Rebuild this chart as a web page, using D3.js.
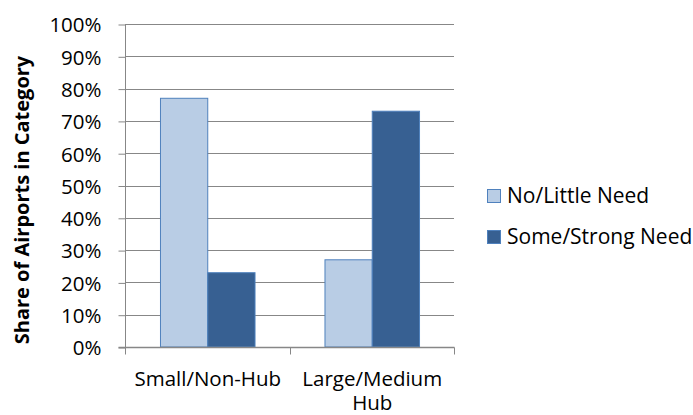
<!DOCTYPE html>
<html>
<head>
<meta charset="utf-8">
<script src="https://cdn.jsdelivr.net/npm/d3@7"></script>
<style>
  html, body { margin: 0; padding: 0; background: #fff; }
  svg { display: block; font-family: "Open Sans", sans-serif; }
</style>
</head>
<body>
<svg id="chart" width="693" height="415"></svg>
<script>
// Share of airports by hub size and stated need
const categories = ["Small/Non-Hub", "Large/Medium Hub"];
const categoryLines = [["Small/Non-Hub"], ["Large/Medium", "Hub"]];
const seriesNames = ["No/Little Need", "Some/Strong Need"];
const noLittleNeed = [0.77, 0.27];
const someStrongNeed = [0.23, 0.73];
const yTicks = [0, 0.1, 0.2, 0.3, 0.4, 0.5, 0.6, 0.7, 0.8, 0.9, 1.0];

const fills = ["#B9CDE5", "#376092"];
const strokes = ["#4F81BD", "#4F81BD"];
const font = "'Open Sans', sans-serif";

const svg = d3.select("#chart");
const plot = { left: 125, right: 454, top: 24, bottom: 347 };

const x = d3.scaleBand().domain(categories).range([plot.left, plot.right]).paddingInner(0).paddingOuter(0);
const sub = d3.scaleBand().domain(seriesNames).range([0, x.bandwidth()]).paddingInner(0).paddingOuter(0.74);
const y = d3.scaleLinear().domain([0, 1]).range([plot.bottom, plot.top]);

// horizontal gridlines
svg.append("g").selectAll("line").data(yTicks.filter(d => d > 0)).join("line")
  .attr("x1", plot.left).attr("x2", plot.right)
  .attr("y1", d => Math.round(y(d)) + 0.5).attr("y2", d => Math.round(y(d)) + 0.5)
  .attr("stroke", "#878787").attr("stroke-width", 1);

// y axis
const yAxis = d3.axisLeft(y).tickValues(yTicks).tickFormat(d3.format(".0%")).tickSize(7).tickPadding(17);
const gy = svg.append("g").attr("transform", `translate(${plot.left + 0.5},0.5)`).call(yAxis);
gy.attr("font-family", null).attr("font-size", null);
gy.select(".domain").attr("stroke", "#878787").attr("d", `M0,${plot.top}V${plot.bottom}`);
gy.selectAll(".tick line").attr("stroke", "#878787");
gy.selectAll(".tick text").attr("fill", "#000").attr("dy", "0.36em")
  .style("font-size", "20.5px").style("font-family", font);

// bars
const rows = categories.map((c, i) => ({ cat: c, vals: [noLittleNeed[i], someStrongNeed[i]] }));
const groups = svg.append("g").selectAll("g").data(rows).join("g")
  .attr("transform", d => `translate(${x(d.cat)},0)`);
groups.selectAll("rect").data(d => d.vals.map((v, j) => ({ v, s: seriesNames[j], j }))).join("rect")
  .attr("x", d => sub(d.s) + 0.5)
  .attr("width", sub.bandwidth())
  .attr("y", d => y(d.v))
  .attr("height", d => y(0) - y(d.v))
  .attr("fill", d => fills[d.j])
  .attr("stroke", d => strokes[d.j])
  .attr("stroke-width", 1);

// x axis
const gx = svg.append("g").attr("transform", `translate(0.5,${Math.round(plot.bottom) + 0.5})`);
gx.append("line").attr("x1", plot.left - 7).attr("x2", plot.right).attr("y1", 0).attr("y2", 0)
  .attr("stroke", "#878787").attr("stroke-width", 1.5);
const boundaries = [plot.left, ...categories.slice(1).map(c => x(c)), plot.right];
gx.selectAll("line.tick").data(boundaries).join("line").attr("class", "tick")
  .attr("x1", d => Math.round(d)).attr("x2", d => Math.round(d)).attr("y1", 0).attr("y2", 7)
  .attr("stroke", "#878787");

// category labels, one text element per line
const labelLines = categories.flatMap((c, i) => categoryLines[i].map((t, k) => ({ c, t, k })));
gx.selectAll("text").data(labelLines).join("text")
  .attr("x", d => x(d.c) + x.bandwidth() / 2)
  .attr("y", d => 38 + d.k * 24)
  .attr("text-anchor", "middle")
  .style("font-size", "20.5px").style("font-family", font)
  .attr("fill", "#000")
  .text(d => d.t);

// y axis title
svg.append("text")
  .attr("transform", `translate(29,200) rotate(-90)`)
  .attr("text-anchor", "middle")
  .style("font-size", "20px").style("font-weight", "bold").style("font-family", font)
  .attr("fill", "#000")
  .text("Share of Airports in Category");

// legend
const legend = svg.append("g").attr("transform", "translate(487,189)");
const items = legend.selectAll("g").data(seriesNames).join("g")
  .attr("transform", (d, i) => `translate(0,${i * 41})`);
items.append("rect").attr("x", 0.5).attr("y", 0.5).attr("width", 13).attr("height", 13)
  .attr("fill", (d, i) => fills[i]).attr("stroke", (d, i) => strokes[i]);
items.append("text").attr("x", 20).attr("y", 14)
  .style("font-size", "21px").style("font-family", font).attr("fill", "#000").text(d => d);
</script>
</body>
</html>
